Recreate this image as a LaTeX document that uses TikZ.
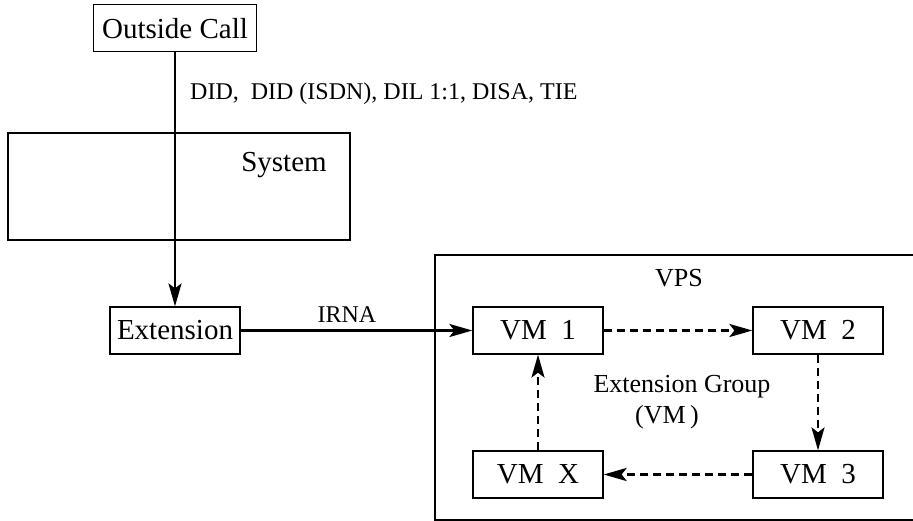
\documentclass[tikz,border=0pt]{standalone}
\usepackage{fontspec}
\setmainfont{Liberation Serif}
\usetikzlibrary{arrows.meta}
\begin{document}
\begin{tikzpicture}
    [ x=1pt, y=-1pt,
      box-node/.style = {
        shape=rectangle, draw, line width=1.2pt,
        inner sep=0pt, minimum width=130pt, minimum height=47pt,
        font=\fontsize{29}{30}\selectfont
      },
      frame-node/.style = {
        shape=rectangle, draw, line width=1.2pt, inner sep=0pt
      },
      txt/.style = {inner sep=0pt, anchor=base},
      flow/.style = {-{Stealth[length=23pt,width=13pt,inset=5pt]}, line width=2.4pt},
      loop-flow/.style = {flow, dash pattern=on 8pt off 5pt}]
  \useasboundingbox (0,0) rectangle (913,521);
  % frames
  \node [frame-node, minimum width=342pt, minimum height=107pt] (system) at (179,186.5) {};
  \node [frame-node, minimum width=480pt, minimum height=265pt] (vps) at (675,387.5) {};
  \node [txt, font=\fontsize{29}{30}\selectfont] (system-lbl) at (284,172) {System};
  \node [txt, font=\fontsize{26}{28}\selectfont] (vps-lbl) at (679,287) {VPS};
  % boxes
  \node [box-node, minimum width=163pt] (outside) at (175,28.3) {Outside Call};
  \node [box-node] (ext) at (175,330.5) {Extension};
  \node [box-node] (vm1) at (538,330.5) {VM\ \ 1};
  \node [box-node] (vm2) at (818,330.5) {VM\ \ 2};
  \node [box-node] (vm3) at (818,474.5) {VM\ \ 3};
  \node [box-node] (vmx) at (538,474.5) {VM\ \ X};
  % labels
  \node [txt, anchor=base west, font=\fontsize{24}{26}\selectfont] (trunks) at (190,99.5)
    {DID,\ \ DID (ISDN), DIL 1:1, DISA, TIE};
  \node [txt, font=\fontsize{24}{26}\selectfont] (irna) at (347,323) {IRNA};
  \node [txt, font=\fontsize{26}{28}\selectfont] (group) at (682,392) {Extension Group};
  \node [txt, font=\fontsize{26}{28}\selectfont] (group-vm) at (667,423) {(VM\,)};
  % connectors
  \draw [flow] (outside) -- (ext);
  \draw [flow] (ext) -- (vm1);
  \draw [loop-flow] (vm1) -- (vm2);
  \draw [loop-flow] (vm2) -- (vm3);
  \draw [loop-flow] (vm3) -- (vmx);
  \draw [loop-flow] (vmx) -- (vm1);
\end{tikzpicture}
\end{document}
